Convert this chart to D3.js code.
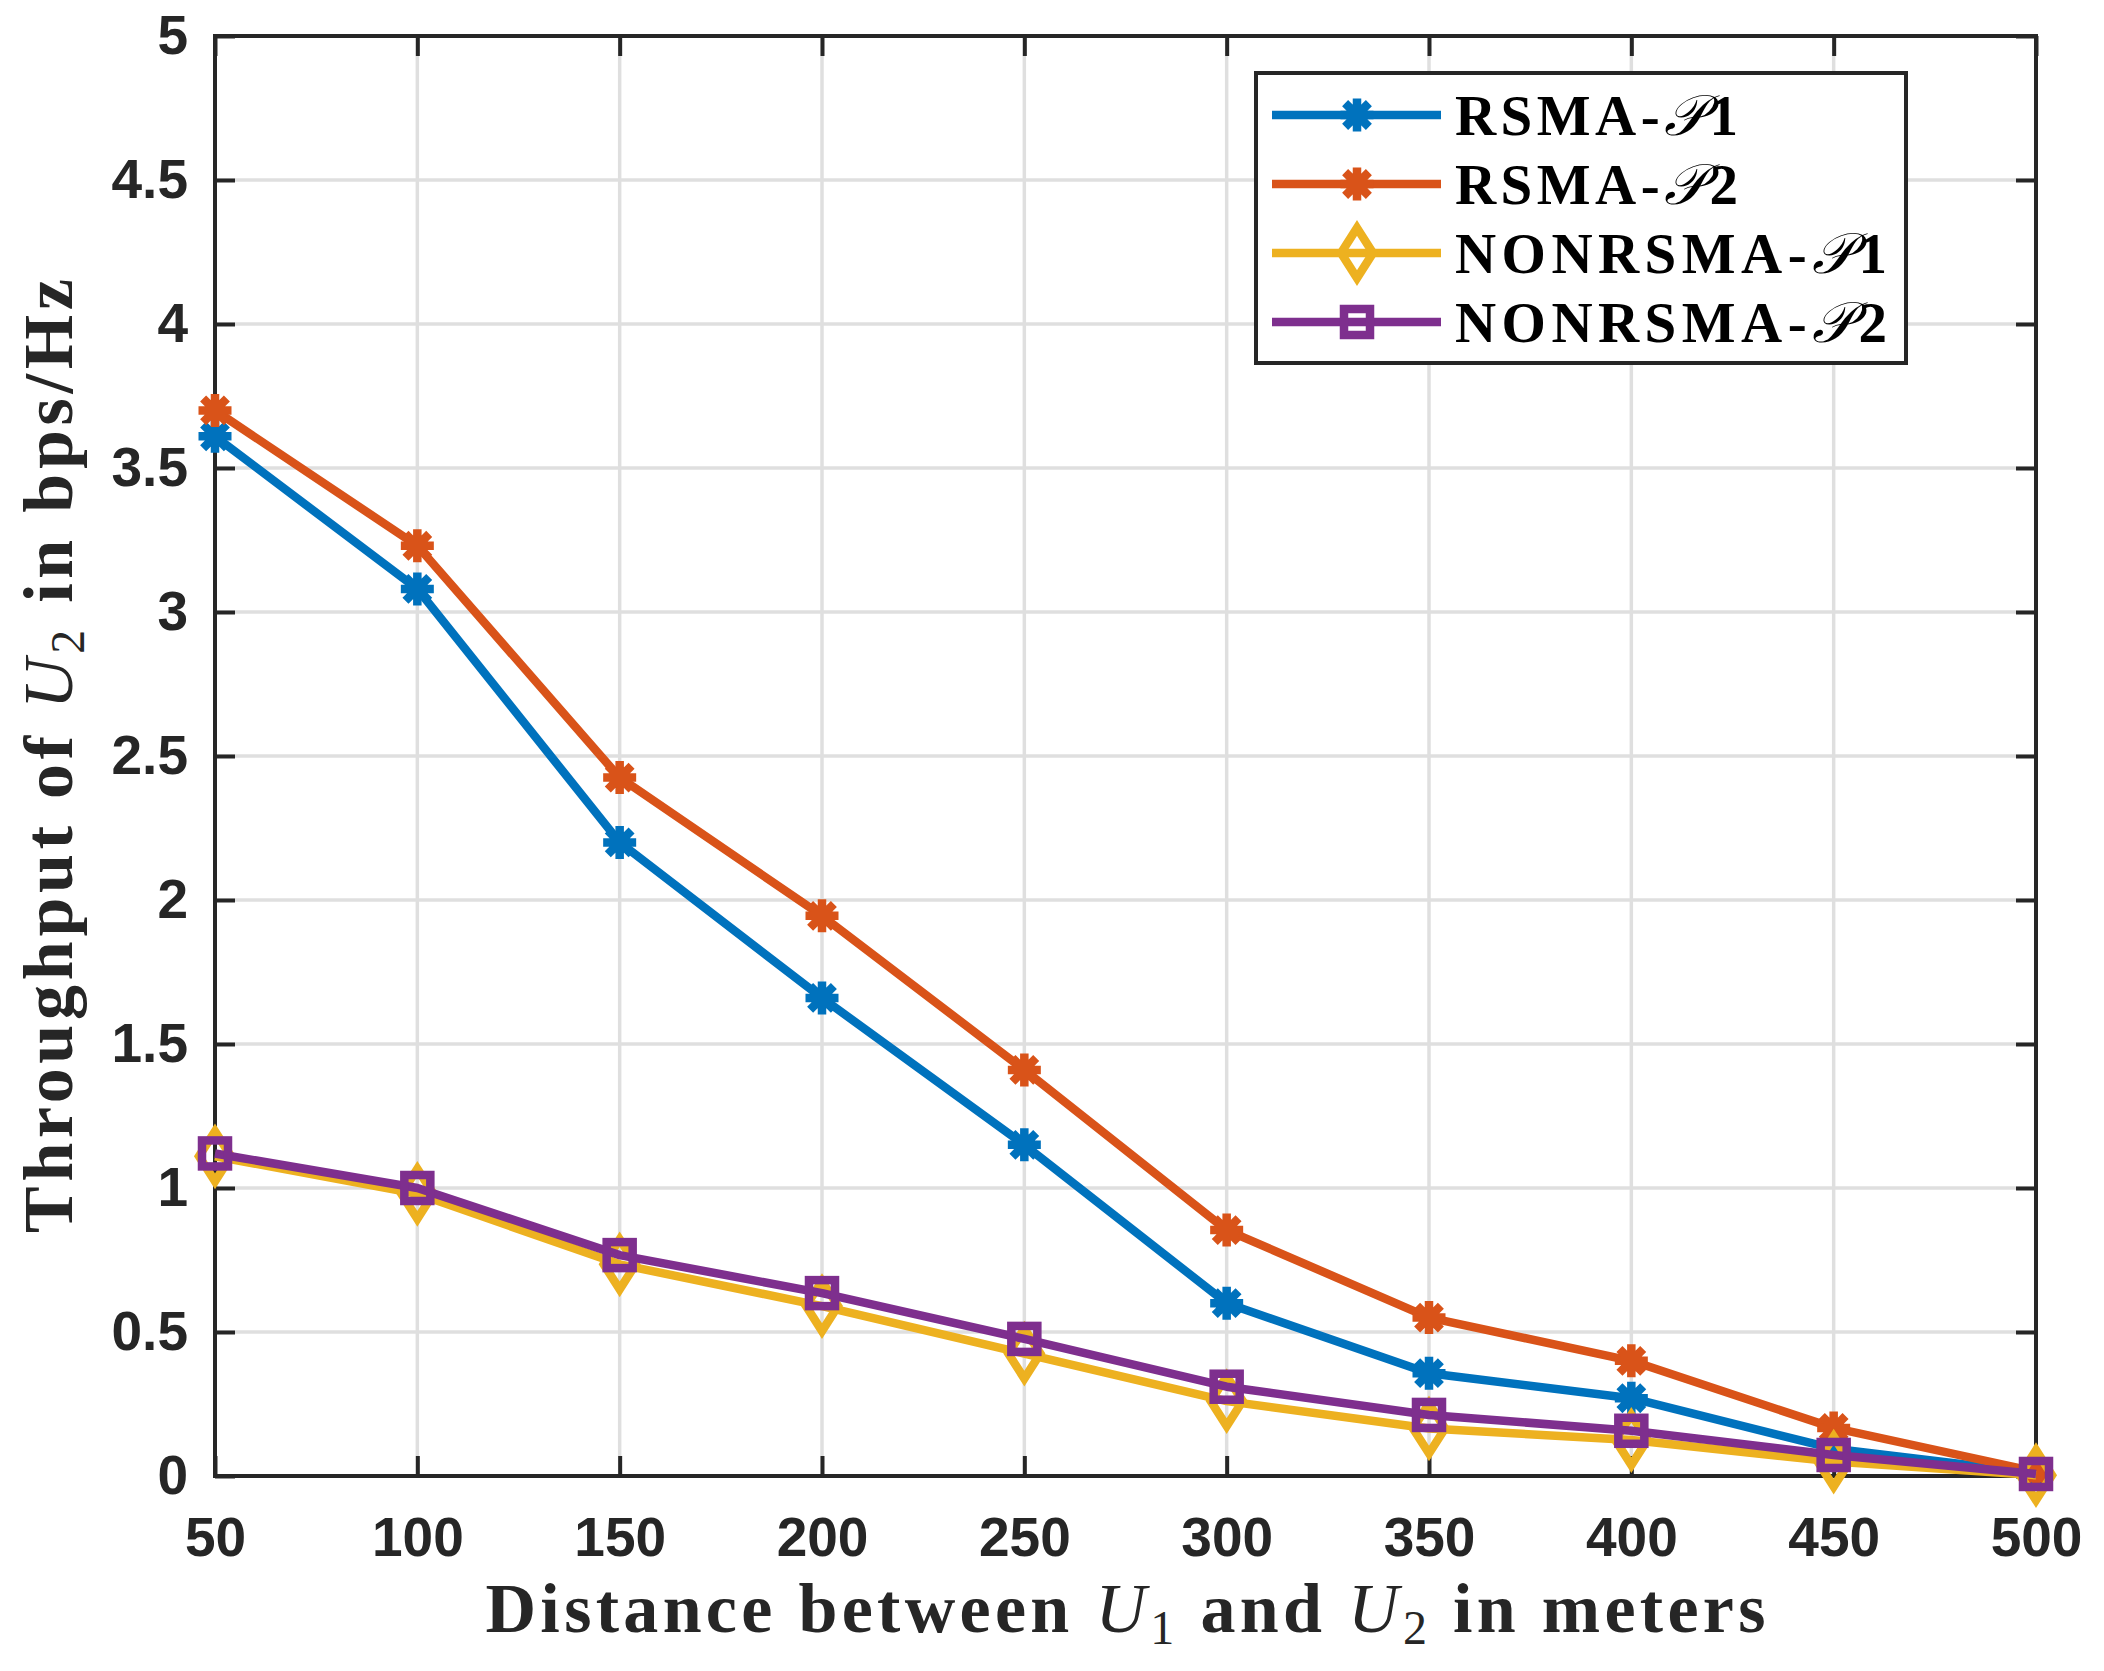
<!DOCTYPE html>
<html>
<head>
<meta charset="utf-8">
<style>
body { margin: 0; background: #fff; }
text { fill: #262626; }
</style>
</head>
<body>
<div id="diagram"></div>
<script src="https://cdn.jsdelivr.net/npm/d3@7/dist/d3.min.js"></script>
<script>

// values
var distances = [ 50, 100, 150, 200, 250, 300, 350, 400, 450, 500 ];
var rsma_p1    = [ 3.61, 3.08, 2.20, 1.66, 1.15, 0.60, 0.357, 0.27, 0.095, 0.01 ];
var rsma_p2    = [ 3.70, 3.23, 2.425, 1.945, 1.41, 0.854, 0.55, 0.40, 0.167, 0.015 ];
var nonrsma_p1 = [ 1.11, 0.98, 0.735, 0.59, 0.425, 0.26, 0.165, 0.125, 0.05, 0.003 ];
var nonrsma_p2 = [ 1.12, 1.00, 0.767, 0.635, 0.476, 0.31, 0.212, 0.157, 0.073, 0.007 ];

var x_ticks = [ 50, 100, 150, 200, 250, 300, 350, 400, 450, 500 ];
var y_ticks = [ 0, 0.5, 1, 1.5, 2, 2.5, 3, 3.5, 4, 4.5, 5 ];

var series_names = [ 'RSMA-', 'RSMA-', 'NONRSMA-', 'NONRSMA-' ];
var series_idx   = [ '1', '2', '1', '2' ];
var series_data  = [ rsma_p1, rsma_p2, nonrsma_p1, nonrsma_p2 ];
var series_color = [ '#0072BD', '#D95319', '#EDB120', '#7E2F8E' ];
var series_mark  = [ 'star', 'star', 'diamond', 'square' ];

var canvas_size = { width: 2104, height: 1671 };
var plot = { left: 215, right: 2036, top: 36, bottom: 1476 };
var line_w = 8.5;
var axis_col = '#262626';

var svg = d3.select( '#diagram' )
	.append( 'svg' )
		.attr( 'width', canvas_size.width )
		.attr( 'height', canvas_size.height );

svg.append( 'rect' )
	.attr( 'width', canvas_size.width )
	.attr( 'height', canvas_size.height )
	.attr( 'fill', '#fff' );

var x = d3.scaleLinear().domain( [50, 500] ).range( [plot.left, plot.right] );
var y = d3.scaleLinear().domain( [0, 5] ).range( [plot.bottom, plot.top] );

// grid
var grid = svg.append( 'g' );
grid.selectAll( '.gx' ).data( x_ticks ).enter().append( 'line' )
	.attr( 'x1', d => x(d) ).attr( 'x2', d => x(d) )
	.attr( 'y1', plot.top ).attr( 'y2', plot.bottom )
	.attr( 'stroke', '#dfdfdf' ).attr( 'stroke-width', 3.5 );
grid.selectAll( '.gy' ).data( y_ticks ).enter().append( 'line' )
	.attr( 'y1', d => y(d) ).attr( 'y2', d => y(d) )
	.attr( 'x1', plot.left ).attr( 'x2', plot.right )
	.attr( 'stroke', '#dfdfdf' ).attr( 'stroke-width', 3.5 );

// axes, ticks pointing inwards on all four sides
function style_axis( g )
{
	g.select( '.domain' ).remove();
	g.selectAll( '.tick line' ).attr( 'stroke', axis_col ).attr( 'stroke-width', 4 );
	g.selectAll( '.tick text' )
		.attr( 'fill', axis_col )
		.style( 'font-family', '"Liberation Sans", Arial, sans-serif' )
		.style( 'font-weight', 'bold' )
		.style( 'font-size', '55px' );
}

svg.append( 'g' )
	.attr( 'transform', 'translate(0,' + plot.bottom + ')' )
	.call( d3.axisBottom( x ).tickValues( x_ticks ).tickSizeInner( -20 ).tickSizeOuter( 0 ).tickPadding( 41 ).tickFormat( d3.format( 'd' ) ) )
	.call( style_axis );
svg.append( 'g' )
	.attr( 'transform', 'translate(0,' + plot.top + ')' )
	.call( d3.axisTop( x ).tickValues( x_ticks ).tickSizeInner( -20 ).tickSizeOuter( 0 ).tickFormat( '' ) )
	.call( style_axis );
svg.append( 'g' )
	.attr( 'transform', 'translate(' + plot.left + ',0)' )
	.call( d3.axisLeft( y ).tickValues( y_ticks ).tickSizeInner( -20 ).tickSizeOuter( 0 ).tickPadding( 27 ).tickFormat( d => d ) )
	.call( style_axis );
svg.append( 'g' )
	.attr( 'transform', 'translate(' + plot.right + ',0)' )
	.call( d3.axisRight( y ).tickValues( y_ticks ).tickSizeInner( -20 ).tickSizeOuter( 0 ).tickFormat( '' ) )
	.call( style_axis );

svg.append( 'rect' )
	.attr( 'x', plot.left ).attr( 'y', plot.top )
	.attr( 'width', plot.right - plot.left ).attr( 'height', plot.bottom - plot.top )
	.attr( 'fill', 'none' ).attr( 'stroke', axis_col ).attr( 'stroke-width', 4 );

// markers
function draw_marker( g, kind, color )
{
	if( kind == 'star' )
	{
		var r = 16.5;
		var r2 = r * 0.72;
		var p = 'M0,' + (-r) + 'V' + r + 'M' + (-r) + ',0H' + r +
			'M' + (-r2) + ',' + (-r2) + 'L' + r2 + ',' + r2 +
			'M' + (-r2) + ',' + r2 + 'L' + r2 + ',' + (-r2);
		g.append( 'path' ).attr( 'd', p )
			.attr( 'stroke', color ).attr( 'stroke-width', 8.5 ).attr( 'fill', 'none' );
	}
	else if( kind == 'diamond' )
	{
		g.append( 'path' ).attr( 'd', 'M0,-25L16,0L0,25L-16,0Z' )
			.attr( 'stroke', color ).attr( 'stroke-width', line_w ).attr( 'fill', 'none' )
			.attr( 'stroke-linejoin', 'miter' ).attr( 'stroke-miterlimit', 10 );
	}
	else
	{
		g.append( 'rect' ).attr( 'x', -13 ).attr( 'y', -13 ).attr( 'width', 26 ).attr( 'height', 26 )
			.attr( 'stroke', color ).attr( 'stroke-width', line_w ).attr( 'fill', 'none' );
	}
}

var line = d3.line()
	.x( (d, i) => x( distances[i] ) )
	.y( d => y( d ) );

series_data.forEach( function( data, s )
{
	var g = svg.append( 'g' );
	g.append( 'path' )
		.attr( 'd', line( data ) )
		.attr( 'fill', 'none' )
		.attr( 'stroke', series_color[s] )
		.attr( 'stroke-width', line_w )
		.attr( 'stroke-linejoin', 'round' );
	data.forEach( function( v, i )
	{
		var m = g.append( 'g' ).attr( 'transform', 'translate(' + x( distances[i] ) + ',' + y( v ) + ')' );
		draw_marker( m, series_mark[s], series_color[s] );
	});
});

// legend
var legend = { left: 1256, top: 73, width: 650, height: 290, row0: 115, row_h: 69 };
svg.append( 'rect' )
	.attr( 'x', legend.left ).attr( 'y', legend.top )
	.attr( 'width', legend.width ).attr( 'height', legend.height )
	.attr( 'fill', '#fff' ).attr( 'stroke', axis_col ).attr( 'stroke-width', 4 );

series_names.forEach( function( name, s )
{
	var cy = legend.row0 + s * legend.row_h;
	var g = svg.append( 'g' );
	g.append( 'line' )
		.attr( 'x1', 1272 ).attr( 'x2', 1441 )
		.attr( 'y1', cy ).attr( 'y2', cy )
		.attr( 'stroke', series_color[s] ).attr( 'stroke-width', line_w );
	draw_marker( g.append( 'g' ).attr( 'transform', 'translate(1357,' + cy + ')' ), series_mark[s], series_color[s] );
	var t = g.append( 'text' )
		.attr( 'x', 1455 ).attr( 'y', cy + 20 )
		.attr( 'textLength', name.length > 5 ? 432 : 283 )
		.attr( 'lengthAdjust', 'spacing' )
		.style( 'font-family', '"Liberation Serif", "DejaVu Serif", serif' )
		.style( 'font-size', '57px' )
		.style( 'fill', '#000' );
	t.append( 'tspan' ).style( 'font-weight', 'bold' ).text( name );
	t.append( 'tspan' ).style( 'font-style', 'italic' ).style( 'font-family', '"DejaVu Sans", "DejaVu Serif", serif' ).text( '\u{1D4AB}' );
	t.append( 'tspan' ).style( 'font-weight', 'bold' ).text( series_idx[s] );
});

// axis titles
var serif = '"Liberation Serif", "Times New Roman", serif';

var xt = svg.append( 'text' )
	.attr( 'x', (plot.left + plot.right) / 2 ).attr( 'y', 1632 )
	.attr( 'text-anchor', 'middle' )
	.attr( 'textLength', 1280 ).attr( 'lengthAdjust', 'spacing' )
	.style( 'font-family', serif ).style( 'font-size', '70px' ).style( 'font-weight', 'bold' );
xt.append( 'tspan' ).text( 'Distance between ' );
xt.append( 'tspan' ).style( 'font-style', 'italic' ).style( 'font-weight', 'normal' ).text( 'U' );
xt.append( 'tspan' ).style( 'font-weight', 'normal' ).style( 'font-size', '48px' ).attr( 'dy', 12 ).text( '1' );
xt.append( 'tspan' ).attr( 'dy', -12 ).text( ' and ' );
xt.append( 'tspan' ).style( 'font-style', 'italic' ).style( 'font-weight', 'normal' ).text( 'U' );
xt.append( 'tspan' ).style( 'font-weight', 'normal' ).style( 'font-size', '48px' ).attr( 'dy', 12 ).text( '2' );
xt.append( 'tspan' ).attr( 'dy', -12 ).text( ' in meters' );

var yt = svg.append( 'text' )
	.attr( 'transform', 'translate(72,' + ((plot.top + plot.bottom) / 2) + ') rotate(-90)' )
	.attr( 'text-anchor', 'middle' )
	.attr( 'textLength', 954 ).attr( 'lengthAdjust', 'spacing' )
	.style( 'font-family', serif ).style( 'font-size', '70px' ).style( 'font-weight', 'bold' );
yt.append( 'tspan' ).text( 'Throughput of ' );
yt.append( 'tspan' ).style( 'font-style', 'italic' ).style( 'font-weight', 'normal' ).text( 'U' );
yt.append( 'tspan' ).style( 'font-weight', 'normal' ).style( 'font-size', '48px' ).attr( 'dy', 12 ).text( '2' );
yt.append( 'tspan' ).attr( 'dy', -12 ).text( ' in bps/Hz' );

</script>
</body>
</html>
